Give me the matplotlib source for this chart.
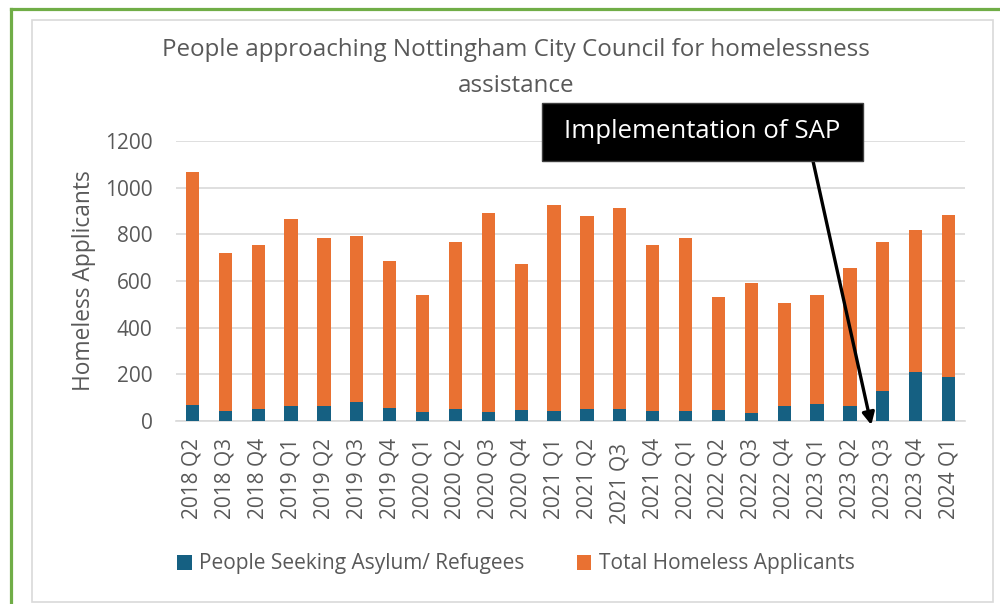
import matplotlib
matplotlib.use("Agg")
import matplotlib.pyplot as plt
from matplotlib.patches import Rectangle
from matplotlib.lines import Line2D
import numpy as np

quarters = ["2018 Q2", "2018 Q3", "2018 Q4", "2019 Q1", "2019 Q2", "2019 Q3",
            "2019 Q4", "2020 Q1", "2020 Q2", "2020 Q3", "2020 Q4", "2021 Q1",
            "2021 Q2", "2021 Q3 ", "2021 Q4", "2022 Q1", "2022 Q2", "2022 Q3",
            "2022 Q4", "2023 Q1", "2023 Q2", "2023 Q3", "2023 Q4", "2024 Q1"]
total_applicants = [1066, 719, 753, 864, 784, 793, 684, 540, 769, 891, 673, 926,
                    879, 913, 753, 783, 531, 591, 506, 539, 656, 767, 817, 883]
asylum_refugees = [70, 43, 53, 63, 66, 81, 54, 40, 50, 40, 48, 44,
                   51, 50, 44, 43, 47, 33, 63, 74, 66, 129, 211, 187]

blue = "#156082"
orange = "#E97132"
grey_text = "#595959"
font = "Open Sans"

plt.rcParams["font.family"] = [font, "DejaVu Sans"]

fig = plt.figure(figsize=(10, 6.04), dpi=100)

# outer borders
fig.add_artist(Line2D([0.0105, 0.0105], [0, 1 - 8.5 / 604], transform=fig.transFigure,
                      color="#70AD47", lw=2.3))
fig.add_artist(Line2D([0.0105, 1], [1 - 8.5 / 604, 1 - 8.5 / 604], transform=fig.transFigure,
                      color="#70AD47", lw=2.3))
fig.add_artist(Rectangle((0.0315, 1 - 602 / 604), 0.9615, (602 - 19.5) / 604,
                         transform=fig.transFigure, fill=False, ec="#d9d9d9", lw=1.2))

ax = fig.add_axes([0.176, 1 - 421 / 604, 0.789, 280 / 604])
x = np.arange(len(quarters))
ax.bar(x, total_applicants, width=0.4, color=orange, label="Total Homeless Applicants", zorder=2)
ax.bar(x, asylum_refugees, width=0.4, color=blue, label="People Seeking Asylum/ Refugees", zorder=3)

ax.set_xlim(-0.5, len(quarters) - 0.5)
ax.set_ylim(0, 1200)
ax.set_yticks(range(0, 1201, 200))
ax.grid(axis="y", color="#d9d9d9", lw=1.2, zorder=0)
ax.set_axisbelow(True)
for s in ["top", "right", "left"]:
    ax.spines[s].set_visible(False)
ax.spines["bottom"].set_color("#d9d9d9")
ax.spines["bottom"].set_linewidth(1.2)
ax.tick_params(length=0, colors=grey_text, labelsize=15)
ax.tick_params(axis="y", pad=17)
ax.tick_params(axis="x", pad=12)
ax.set_xticks(x)
ax.set_xticklabels(quarters, rotation=90, va="top")
ax.set_ylabel("Homeless Applicants", fontsize=16.4, color=grey_text)
ax.yaxis.set_label_coords(-0.102, 0.5)

fig.text(0.516, 1 - 50 / 604, "People approaching Nottingham City Council for homelessness",
         ha="center", va="center", fontsize=17.4, color=grey_text)
fig.text(0.516, 1 - 86 / 604, "assistance", ha="center", va="center",
         fontsize=17.4, color=grey_text)

# annotation box + arrow
fig.add_artist(Rectangle((0.542, 1 - 161 / 604), 0.321, 58 / 604, transform=fig.transFigure,
                         fc="black", ec="#404040", lw=1))
fig.text(0.7025, 1 - 132 / 604, "Implementation of SAP", ha="center", va="center",
         fontsize=18.5, color="white")
ax.annotate("", xy=(20.65, -17), xycoords="data",
            xytext=(813, 604 - 161), textcoords="figure pixels",
            arrowprops=dict(arrowstyle="-|>", lw=2.4, color="black", mutation_scale=18,
                            shrinkA=0, shrinkB=0),
            annotation_clip=False)

handles, labels = ax.get_legend_handles_labels()
fig.legend(handles[::-1], labels[::-1], loc="center", bbox_to_anchor=(0.516, 1 - 564 / 604),
           ncol=2, frameon=False, fontsize=15, handlelength=0.7, handleheight=0.7,
           handletextpad=0.35, columnspacing=2.5, labelcolor=grey_text)

fig.savefig("out.png", dpi=100)
